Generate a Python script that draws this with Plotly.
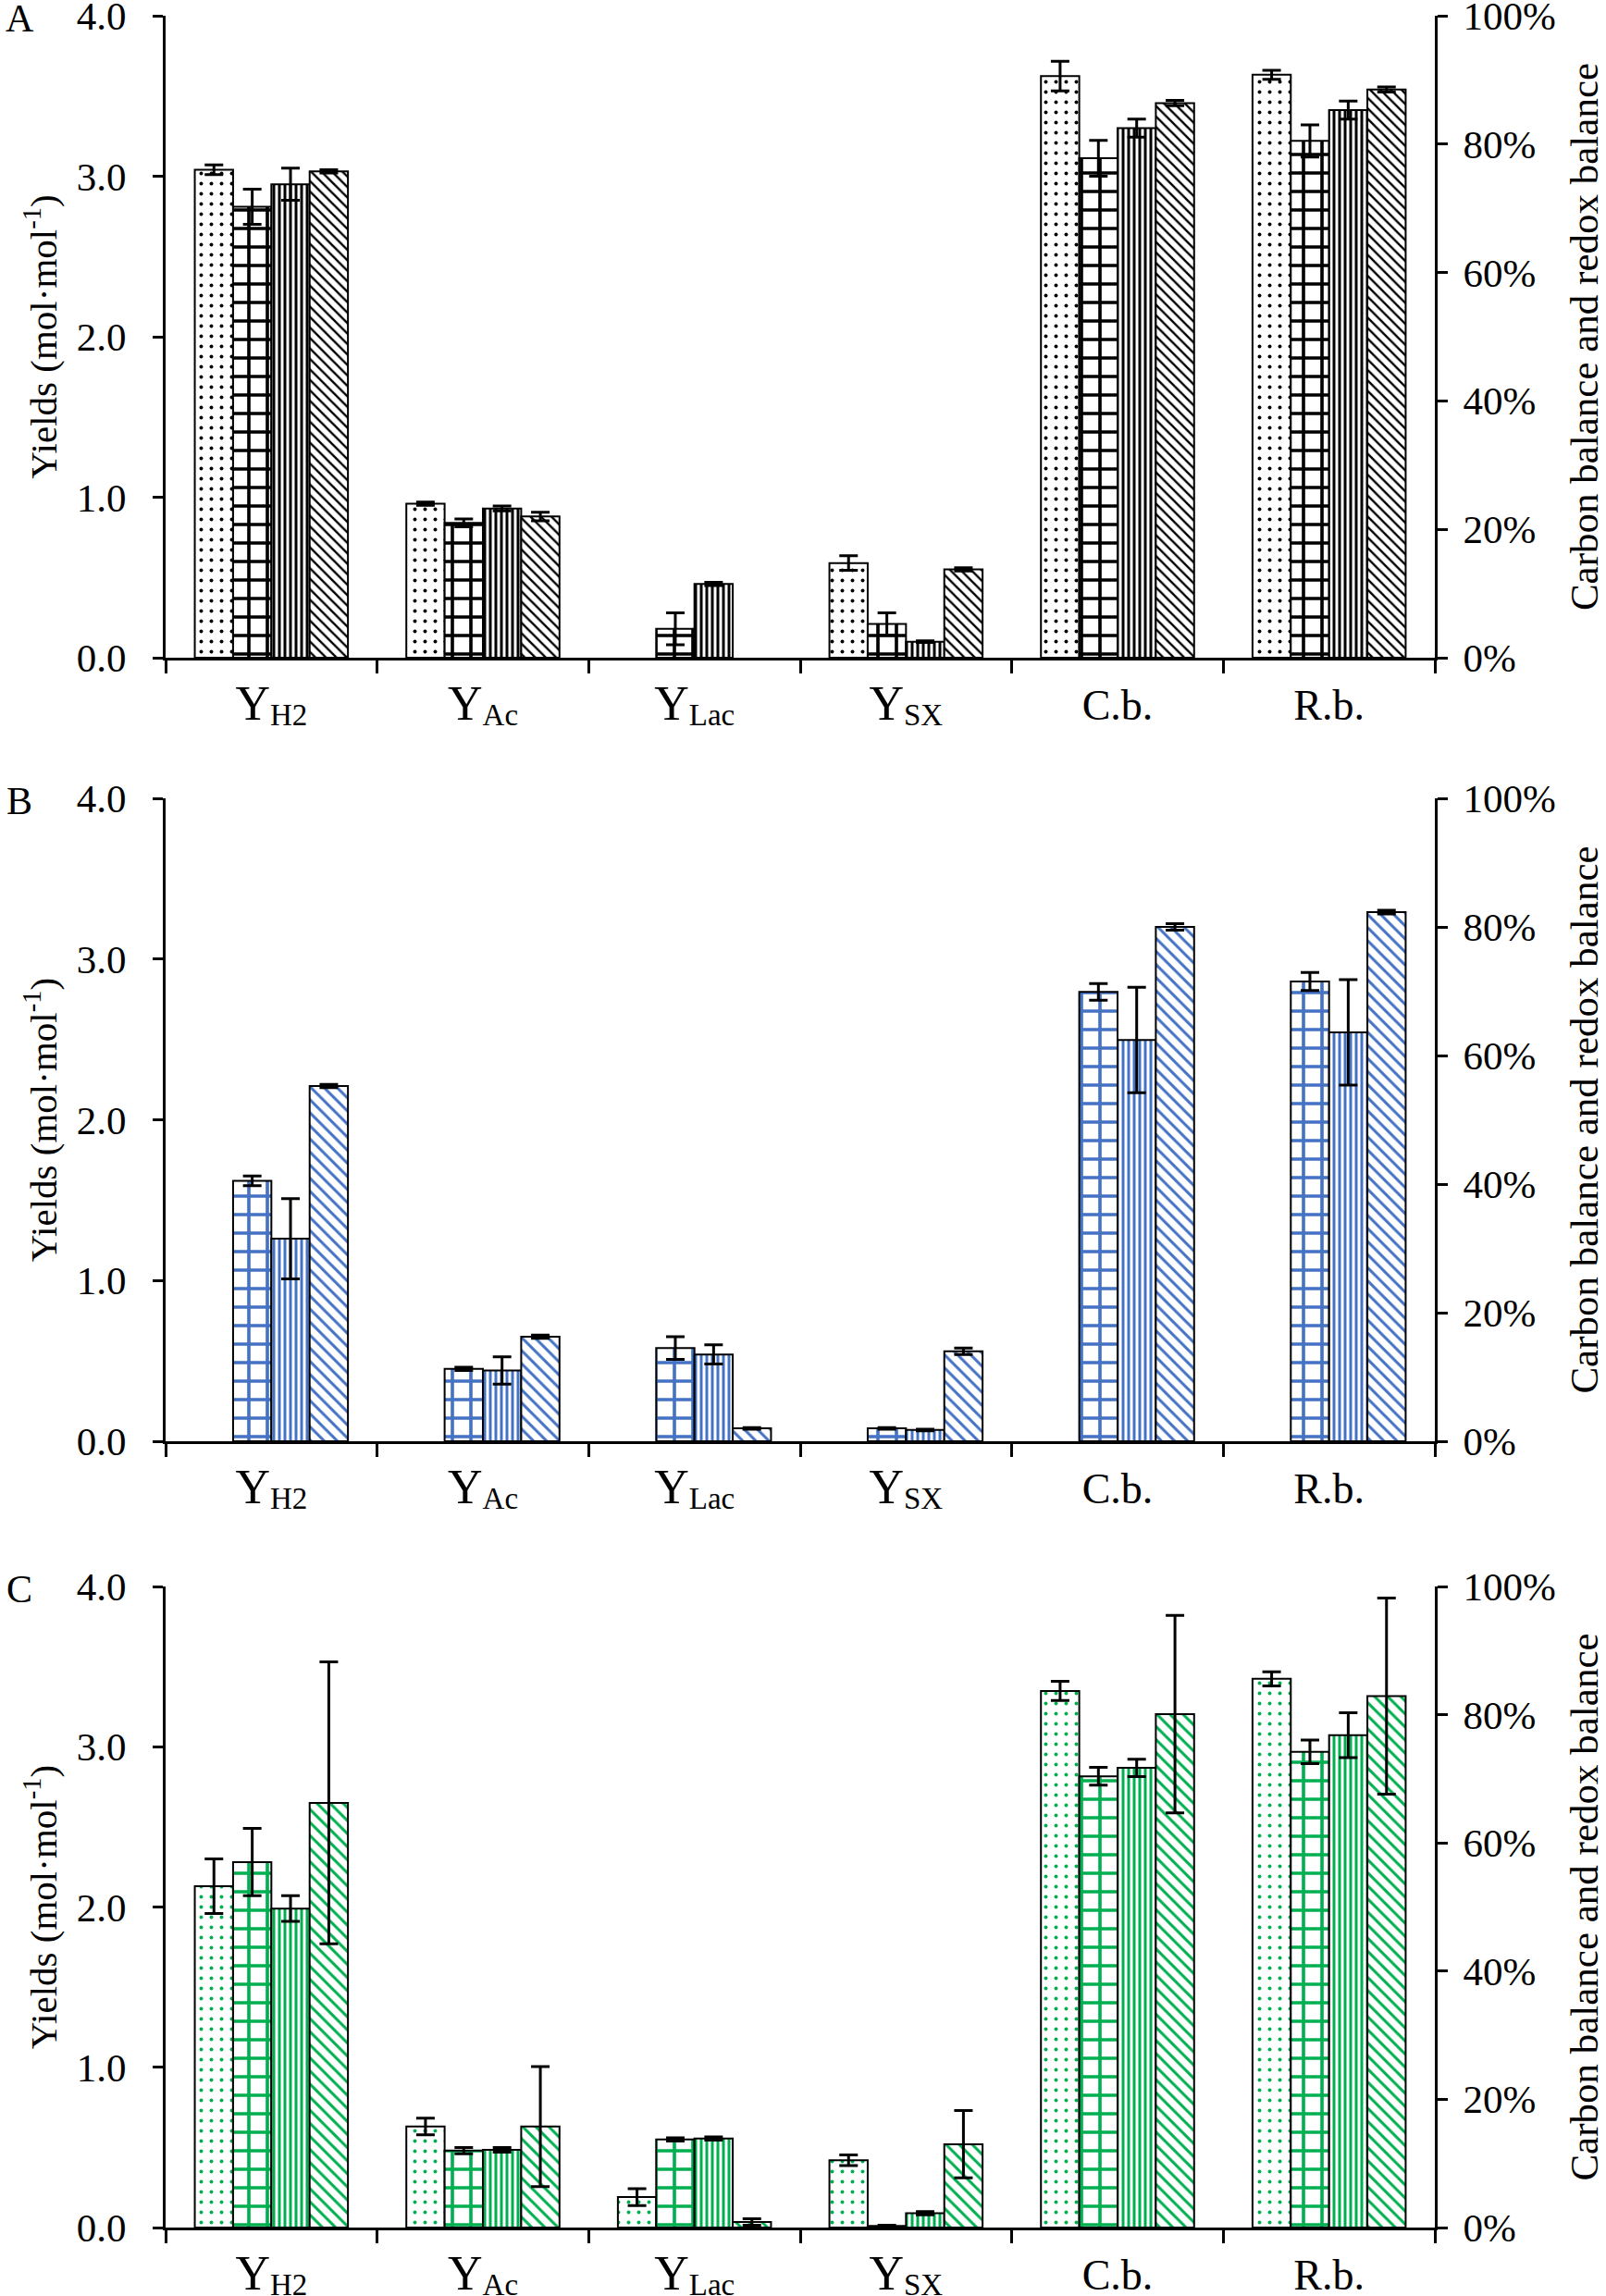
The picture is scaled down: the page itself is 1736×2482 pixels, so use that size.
import plotly.graph_objects as go

# ---------------- data ----------------
categories = ["YH2", "YAc", "YLac", "YSX", "C.b.", "R.b."]
SUB = "font-size:33px;baseline-shift:-6px"
tick_labels = [
    f"<span style='font-size:52px'>Y</span><span style='{SUB}'>H2</span>",
    f"<span style='font-size:52px'>Y</span><span style='{SUB}'>Ac</span>",
    f"<span style='font-size:52px'>Y</span><span style='{SUB}'>Lac</span>",
    f"<span style='font-size:52px'>Y</span><span style='{SUB}'>SX</span>",
    "C.b.",
    "R.b.",
]
yield_cats = categories[:4]
balance_cats = categories[4:]
series_names = ["dots", "brick", "vertical", "diagonal"]

# Panel A (yields mol/mol, balances as fraction); None = no bar drawn
A_dots_yield = [3.04, 0.96, None, 0.59]
A_dots_yield_err = [0.03, 0.01, None, 0.045]
A_brick_yield = [2.81, 0.84, 0.18, 0.21]
A_brick_yield_err = [0.11, 0.025, 0.10, 0.07]
A_vert_yield = [2.95, 0.93, 0.46, 0.10]
A_vert_yield_err = [0.10, 0.015, 0.01, 0.005]
A_diag_yield = [3.03, 0.88, None, 0.55]
A_diag_yield_err = [0.01, 0.027, None, 0.01]
A_dots_bal = [0.906, 0.908]
A_dots_bal_err = [0.023, 0.007]
A_brick_bal = [0.778, 0.805]
A_brick_bal_err = [0.028, 0.025]
A_vert_bal = [0.825, 0.853]
A_vert_bal_err = [0.014, 0.014]
A_diag_bal = [0.864, 0.885]
A_diag_bal_err = [0.004, 0.004]

# Panel B (no dotted series)
B_brick_yield = [1.62, 0.45, 0.58, 0.08]
B_brick_yield_err = [0.03, 0.01, 0.07, 0.005]
B_vert_yield = [1.26, 0.44, 0.54, 0.07]
B_vert_yield_err = [0.25, 0.085, 0.06, 0.005]
B_diag_yield = [2.21, 0.65, 0.08, 0.56]
B_diag_yield_err = [0.01, 0.01, 0.005, 0.02]
B_brick_bal = [0.699, 0.715]
B_brick_bal_err = [0.013, 0.014]
B_vert_bal = [0.624, 0.636]
B_vert_bal_err = [0.082, 0.082]
B_diag_bal = [0.800, 0.823]
B_diag_bal_err = [0.005, 0.003]

# Panel C
C_dots_yield = [2.13, 0.63, 0.19, 0.42]
C_dots_yield_err = [0.17, 0.052, 0.053, 0.033]
C_brick_yield = [2.28, 0.48, 0.55, 0.01]
C_brick_yield_err = [0.21, 0.02, 0.01, 0.005]
C_vert_yield = [1.99, 0.485, 0.555, 0.09]
C_vert_yield_err = [0.08, 0.015, 0.01, 0.01]
C_diag_yield = [2.65, 0.63, 0.035, 0.52]
C_diag_yield_err = [0.88, 0.375, 0.02, 0.21]
C_dots_bal = [0.837, 0.856]
C_dots_bal_err = [0.015, 0.011]
C_brick_bal = [0.704, 0.742]
C_brick_bal_err = [0.014, 0.0185]
C_vert_bal = [0.717, 0.768]
C_vert_bal_err = [0.0135, 0.035]
C_diag_bal = [0.801, 0.829]
C_diag_bal_err = [0.154, 0.153]

yield_ticks = [0, 1, 2, 3, 4]
balance_ticks = [0, 0.2, 0.4, 0.6, 0.8, 1.0]

# ---------------- styles ----------------
FONT = "Liberation Serif"
panels = [
    dict(letter="A", color="black", diag_size=8,
         series={
             "dots": (A_dots_yield, A_dots_yield_err, A_dots_bal, A_dots_bal_err),
             "brick": (A_brick_yield, A_brick_yield_err, A_brick_bal, A_brick_bal_err),
             "vertical": (A_vert_yield, A_vert_yield_err, A_vert_bal, A_vert_bal_err),
             "diagonal": (A_diag_yield, A_diag_yield_err, A_diag_bal, A_diag_bal_err),
         }),
    dict(letter="B", color="#4472C4", diag_size=10,
         series={
             "brick": (B_brick_yield, B_brick_yield_err, B_brick_bal, B_brick_bal_err),
             "vertical": (B_vert_yield, B_vert_yield_err, B_vert_bal, B_vert_bal_err),
             "diagonal": (B_diag_yield, B_diag_yield_err, B_diag_bal, B_diag_bal_err),
         }),
    dict(letter="C", color="#00B050", diag_size=10,
         series={
             "dots": (C_dots_yield, C_dots_yield_err, C_dots_bal, C_dots_bal_err),
             "brick": (C_brick_yield, C_brick_yield_err, C_brick_bal, C_brick_bal_err),
             "vertical": (C_vert_yield, C_vert_yield_err, C_vert_bal, C_vert_bal_err),
             "diagonal": (C_diag_yield, C_diag_yield_err, C_diag_bal, C_diag_bal_err),
         }),
]

pattern_shape = {"dots": ".", "brick": "+", "vertical": "|", "diagonal": "\\"}
pattern_size = {"dots": 11, "brick": 20, "vertical": 6, "diagonal": 8}
pattern_solid = {"dots": 0.1, "brick": 0.33, "vertical": 0.5, "diagonal": 0.3}

BAR_W = 0.181
offsets = {name: -2 * BAR_W + i * BAR_W for i, name in enumerate(series_names)}

W, H = 1736, 2482
ML, MR, MT, MB = 179, 185, 17, 74
plot_w = W - ML - MR
plot_h = H - MT - MB
row_tops_px = [17, 863, 1715]
row_bots_px = [711, 1558, 2408]
domains = [[(H - MB - b) / plot_h, (H - MB - t) / plot_h] for t, b in zip(row_tops_px, row_bots_px)]
domains[0][1] = 1.0
domains[2][0] = 0.0

fig = go.Figure()
layout = dict(
    width=W, height=H,
    margin=dict(l=ML, r=MR, t=MT, b=MB, autoexpand=False),
    paper_bgcolor="white", plot_bgcolor="white",
    barmode="overlay", showlegend=False,
    font=dict(family=FONT, color="black", size=40),
)
annotations = []

for p, panel in enumerate(panels):
    xa = "x" if p == 0 else f"x{p + 1}"
    yl = "y" if p == 0 else f"y{2 * p + 1}"
    yr = f"y{2 * p + 2}"
    col = panel["color"]
    for name in series_names:
        if name not in panel["series"]:
            continue
        yv, ye, bv, be = panel["series"][name]
        size = panel["diag_size"] if name == "diagonal" else pattern_size[name]
        marker = dict(
            color="white",
            line=dict(color="black", width=2),
            pattern=dict(shape=pattern_shape[name], fgcolor=col, bgcolor="white",
                         size=size, solidity=pattern_solid[name], fillmode="replace"),
        )
        err_style = dict(type="data", visible=True, color="black", thickness=3, width=10)
        fig.add_trace(go.Bar(
            x=yield_cats, y=yv, xaxis=xa, yaxis=yl,
            width=BAR_W, offset=offsets[name], marker=marker,
            error_y=dict(array=ye, **err_style), name=name,
        ))
        fig.add_trace(go.Bar(
            x=balance_cats, y=bv, xaxis=xa, yaxis=yr,
            width=BAR_W, offset=offsets[name], marker=marker,
            error_y=dict(array=be, **err_style), name=name,
        ))

    xkey = "xaxis" if p == 0 else f"xaxis{p + 1}"
    ylkey = "yaxis" if p == 0 else f"yaxis{2 * p + 1}"
    yrkey = f"yaxis{2 * p + 2}"
    layout[xkey] = dict(
        domain=[0, 1], anchor=yl, type="category", automargin=False,
        categoryorder="array", categoryarray=categories,
        tickmode="array", tickvals=categories, ticktext=tick_labels,
        range=[-0.5, 5.5], showline=True, linecolor="black", linewidth=3,
        ticks="outside", tickson="boundaries", ticklen=14, tickwidth=3, tickcolor="black",
        tickfont=dict(family=FONT, size=46, color="black"), ticklabeloverflow="allow",
        ticklabelstandoff=9, showgrid=False, zeroline=False,
    )
    layout[ylkey] = dict(
        domain=domains[p], anchor=xa, range=[0, 4], tickmode="array", automargin=False,
        tickvals=yield_ticks, ticktext=[f"{v:.1f}" for v in yield_ticks],
        showline=True, linecolor="black", linewidth=3,
        ticks="outside", ticklen=11, tickwidth=3, tickcolor="black",
        tickfont=dict(family=FONT, size=43, color="black"), ticklabeloverflow="allow",
        ticklabelstandoff=20, showgrid=False, zeroline=False,
        title=dict(text="Yields (mol·mol<sup>-1</sup>)",
                   font=dict(family=FONT, size=41, color="black"), standoff=9),
    )
    layout[yrkey] = dict(
        overlaying=yl, side="right", anchor=xa, range=[0, 1], tickmode="array", automargin=False,
        tickvals=balance_ticks, ticktext=[f"{round(v * 100)}%" for v in balance_ticks],
        showline=True, linecolor="black", linewidth=3,
        ticks="outside", ticklen=11, tickwidth=3, tickcolor="black",
        tickfont=dict(family=FONT, size=43, color="black"), ticklabeloverflow="allow",
        ticklabelstandoff=8, showgrid=False, zeroline=False,
        title=dict(text="Carbon balance and redox balance",
                   font=dict(family=FONT, size=43, color="black"), standoff=28),
    )
    annotations.append(dict(
        text=panel["letter"], xref="paper", yref="paper",
        x=(21 - ML) / plot_w, y=domains[p][1] - 3 / plot_h, xanchor="center", yanchor="middle",
        showarrow=False, font=dict(family=FONT, size=42, color="black"),
    ))

layout["annotations"] = annotations
fig.update_layout(**layout)
fig.write_html(
    "out.html",
    config={"displayModeBar": False},
    post_script="document.body.style.margin='0';document.body.style.padding='0';",
)
